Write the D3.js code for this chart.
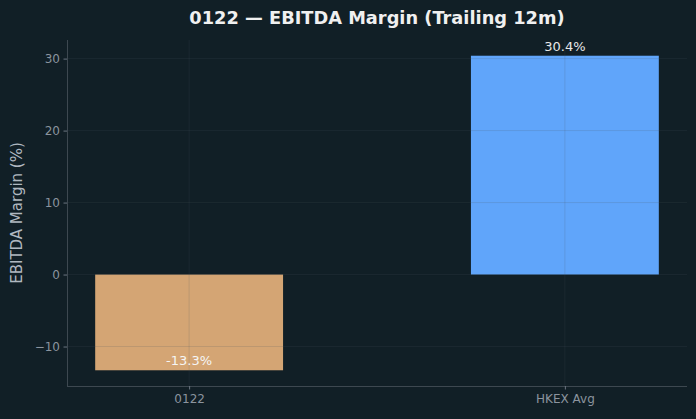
<!DOCTYPE html>
<html><head><meta charset="utf-8">
<script src="https://cdn.jsdelivr.net/npm/d3@7"></script>
<style>html,body{margin:0;padding:0;background:#111f26;}svg{display:block;}</style>
</head><body>
<svg id="c" width="696" height="419"></svg>
<script>
const categories = ["0122", "HKEX Avg"];
const values = [-13.3, 30.4];
const colors = ["#d4a574", "#60a5fa"];
const yTicks = [-10, 0, 10, 20, 30];
const title = "0122 — EBITDA Margin (Trailing 12m)";
const yLabel = "EBITDA Margin (%)";

const W = 696, H = 419;
const m = {left: 67, right: 9, top: 40, bottom: 33};
const svg = d3.select("#c");
svg.append("rect").attr("width", W).attr("height", H).attr("fill", "#111f26");

const vmin = Math.min(0, d3.min(values)), vmax = Math.max(0, d3.max(values));
const pad = (vmax - vmin) * 0.05;
const y = d3.scaleLinear().domain([vmin - pad, vmax + pad]).range([H - m.bottom, m.top]);
const x = d3.scaleLinear().domain([-0.325, categories.length - 1 + 0.325]).range([m.left, W - m.right]);
const bw = 0.5;

const font = "DejaVu Sans, sans-serif";

// bars
svg.selectAll("rect.bar").data(values).enter().append("rect")
  .attr("class", "bar")
  .attr("x", (d, i) => x(i - bw / 2))
  .attr("width", x(bw) - x(0))
  .attr("y", d => y(Math.max(0, d)))
  .attr("height", d => Math.abs(y(d) - y(0)))
  .attr("fill", (d, i) => colors[i]);

// grid (drawn above bars)
const g = svg.append("g");
g.selectAll("line.h").data(yTicks).enter().append("line")
  .attr("x1", m.left).attr("x2", W - m.right)
  .attr("y1", d => y(d)).attr("y2", d => y(d))
  .attr("stroke", "#4b5563").attr("stroke-opacity", 0.22).attr("stroke-width", 0.8);
g.selectAll("line.v").data(categories).enter().append("line")
  .attr("x1", (d, i) => x(i)).attr("x2", (d, i) => x(i))
  .attr("y1", m.top).attr("y2", H - m.bottom)
  .attr("stroke", "#4b5563").attr("stroke-opacity", 0.22).attr("stroke-width", 0.8);

// axes
const yAxis = d3.axisLeft(y).tickValues(yTicks).tickSize(3.5).tickPadding(3.5)
  .tickFormat(d => d < 0 ? "\u2212" + Math.abs(d) : String(d));
const ya = svg.append("g").attr("transform", `translate(${m.left},0)`).call(yAxis);
const xAxis = d3.axisBottom(x).tickValues(d3.range(categories.length)).tickSize(3.5).tickPadding(5)
  .tickFormat(i => categories[i]);
const xa = svg.append("g").attr("transform", `translate(0,${H - m.bottom})`).call(xAxis);
[ya, xa].forEach(a => {
  a.select(".domain").attr("stroke", "#3d4850").attr("stroke-width", 1);
  a.selectAll(".tick line").attr("stroke", "#6b7580");
  a.selectAll(".tick text").attr("fill", "#8b949e").attr("font-family", font).attr("font-size", 12);
});
ya.select(".domain").attr("d", `M0.5,${m.top}V${H - m.bottom}`);
xa.select(".domain").attr("d", `M${m.left},0.5H${W - m.right}`);

// value labels
svg.selectAll("text.val").data(values).enter().append("text")
  .attr("x", (d, i) => x(i))
  .attr("y", d => y(d) - 5)
  .attr("text-anchor", "middle")
  .attr("font-family", font).attr("font-size", 13)
  .attr("fill", d => d < 0 ? "#f5f5f5" : "#e8e8e8")
  .text(d => d.toFixed(1) + "%");

// title
svg.append("text").attr("x", (m.left + W - m.right) / 2).attr("y", 24)
  .attr("text-anchor", "middle").attr("font-family", font).attr("font-weight", "bold")
  .attr("font-size", 17.8).attr("fill", "#f0f0f0").text(title);

// y label
svg.append("text").attr("transform", `translate(22,${(m.top + H - m.bottom) / 2}) rotate(-90)`)
  .attr("text-anchor", "middle").attr("font-family", font).attr("font-size", 15)
  .attr("fill", "#b0b8c0").text(yLabel);
</script>
</body></html>
